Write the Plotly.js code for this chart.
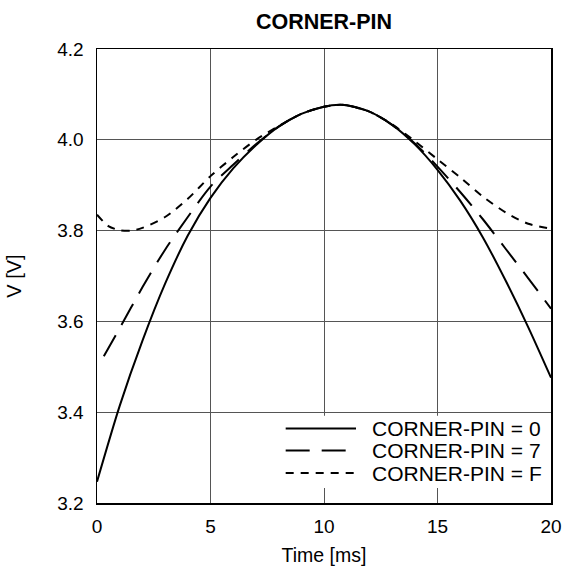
<!DOCTYPE html>
<html>
<head>
<meta charset="utf-8">
<script src="https://cdn.plot.ly/plotly-3.0.1.min.js"></script>
<style>html,body{margin:0;padding:0;background:#fff}#chart{width:567px;height:572px}</style>
</head>
<body>
<div id="chart"></div>
<script>
// Time [ms] and V [V] values
const t0 = [0,1,2,3,4,5,6,7,8,9,10,10.7,11,12,13,14,15,16,17,18,19,20];
const v0 = [3.247,3.414,3.557,3.683,3.789,3.872,3.937,3.988,4.029,4.057,4.073,4.077,4.076,4.062,4.033,3.99,3.934,3.866,3.785,3.69,3.587,3.476];

const t7 = [0.3,1,2,3,4,5,6,7,8,9,10,10.7,11,12,13,14,15,16,17,18,19,20];
const v7 = [3.523,3.585,3.675,3.758,3.83,3.897,3.945,3.99,4.029,4.057,4.073,4.077,4.076,4.062,4.033,3.992,3.941,3.885,3.825,3.76,3.695,3.628];

const tF = [0,0.5,1,1.5,2,3,4,5,6,7,8,9,10,10.7,11,12,13,14,15,16,17,18,19,20];
const vF = [3.835,3.81,3.801,3.8,3.806,3.83,3.87,3.92,3.962,4.0,4.03,4.057,4.073,4.077,4.076,4.062,4.034,3.997,3.957,3.917,3.875,3.84,3.815,3.804];

const names = ['CORNER-PIN = 0','CORNER-PIN = 7','CORNER-PIN = F'];
const dashes = ['solid','24px,12px','8px,7px'];
const xTicks = [0,5,10,15,20];
const yTicks = [3.2,3.4,3.6,3.8,4.0,4.2];

const font = 'Liberation Sans, Arial, sans-serif';
const mk = (x,y,name,dash)=>({x:x,y:y,name:name,type:'scatter',mode:'lines',
  line:{color:'#000',width:2,dash:dash,shape:'spline',smoothing:0.8}});

const data = [
  mk(t0,v0,names[0],dashes[0]),
  mk(t7,v7,names[1],dashes[1]),
  mk(tF,vF,names[2],dashes[2])
];

// custom legend (paper coordinates)
const legRowsY = [0.164,0.1156,0.066];
const shapes = [{type:'rect',xref:'paper',yref:'paper',x0:0.403,x1:0.996,y0:0.033,y1:0.192,
  fillcolor:'#fff',line:{width:0},layer:'above'}];
const annotations = [];
names.forEach((n,i)=>{
  shapes.push({type:'line',xref:'paper',yref:'paper',x0:0.4156,x1:0.5705,y0:legRowsY[i],y1:legRowsY[i],
    line:{color:'#000',width:2,dash:dashes[i]},layer:'above'});
  annotations.push({xref:'paper',yref:'paper',x:0.601,y:legRowsY[i],xanchor:'left',yanchor:'middle',
    text:n,showarrow:false,font:{family:font,size:21,color:'#000'}});
});

const axisCommon = {showline:true,linecolor:'#000',linewidth:1.5,mirror:true,
  showgrid:true,gridcolor:'#555',gridwidth:1,zeroline:false,ticks:'',
  tickfont:{family:font,size:19,color:'#000'}};

const layout = {
  width:567,height:572,
  margin:{l:97,r:16,t:49,b:69},
  paper_bgcolor:'#fff',plot_bgcolor:'#fff',
  title:{text:'<b>CORNER-PIN</b>',font:{family:font,size:21.5,color:'#000'},x:0.5715,xanchor:'center',y:0.963,yanchor:'middle'},
  xaxis:Object.assign({},axisCommon,{range:[0,20],tickvals:xTicks,ticktext:xTicks.map(String),
    ticklabelstandoff:6,
    title:{text:'Time [ms]',font:{family:font,size:19.5,color:'#000'},standoff:12}}),
  yaxis:Object.assign({},axisCommon,{range:[3.2,4.2],tickvals:yTicks,ticktext:yTicks.map(v=>v.toFixed(1)),
    ticklabelstandoff:8,
    title:{text:'V [V]',font:{family:font,size:20,color:'#000'},standoff:30}}),
  showlegend:false,
  shapes:shapes,
  annotations:annotations
};

Plotly.newPlot('chart',data,layout,{displayModeBar:false,staticPlot:true});
</script>
</body>
</html>
